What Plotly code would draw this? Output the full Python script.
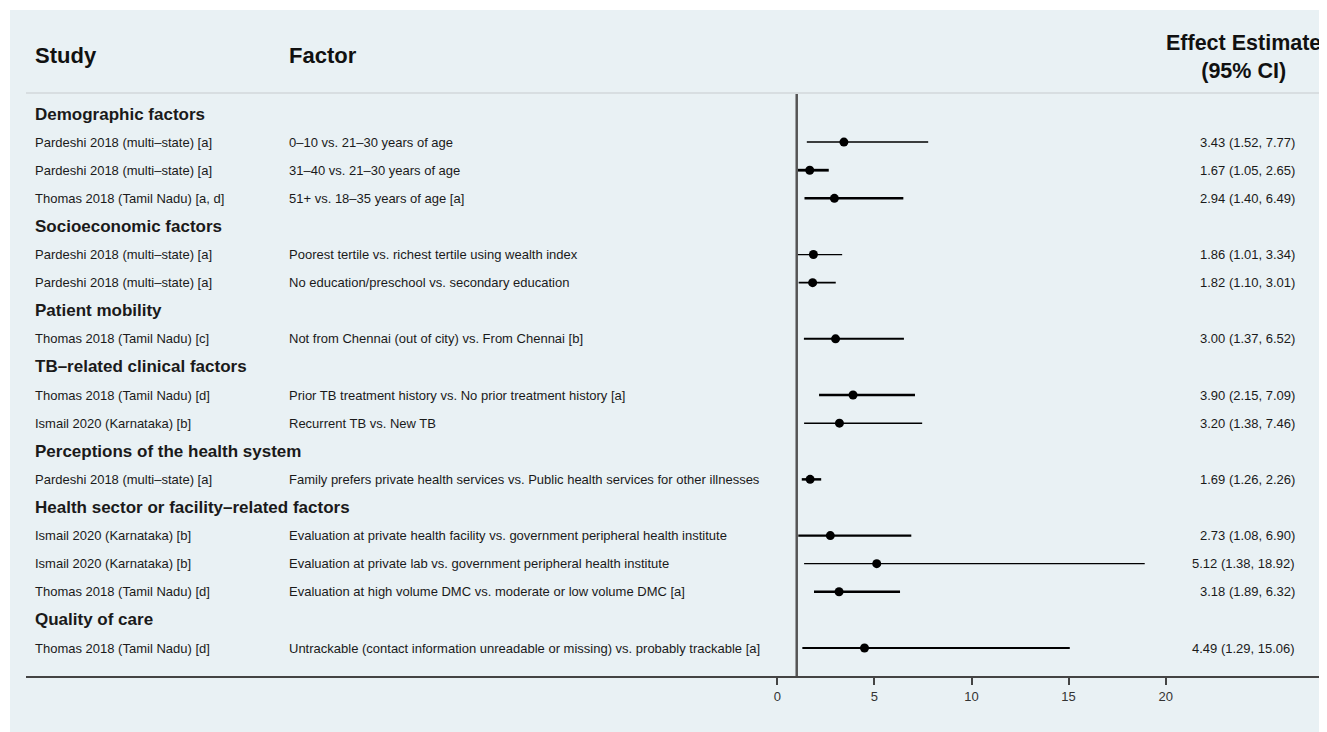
import plotly.graph_objects as go

# ---------------- data ----------------
groups = [
    "Demographic factors",
    "Socioeconomic factors",
    "Patient mobility",
    "TB–related clinical factors",
    "Perceptions of the health system",
    "Health sector or facility–related factors",
    "Quality of care",
]
row_group = [0, 0, 0, 1, 1, 2, 3, 3, 4, 5, 5, 5, 6]
studies = [
    "Pardeshi 2018 (multi–state) [a]",
    "Pardeshi 2018 (multi–state) [a]",
    "Thomas 2018 (Tamil Nadu) [a, d]",
    "Pardeshi 2018 (multi–state) [a]",
    "Pardeshi 2018 (multi–state) [a]",
    "Thomas 2018 (Tamil Nadu) [c]",
    "Thomas 2018 (Tamil Nadu) [d]",
    "Ismail 2020 (Karnataka) [b]",
    "Pardeshi 2018 (multi–state) [a]",
    "Ismail 2020 (Karnataka) [b]",
    "Ismail 2020 (Karnataka) [b]",
    "Thomas 2018 (Tamil Nadu) [d]",
    "Thomas 2018 (Tamil Nadu) [d]",
]
factors = [
    "0–10 vs. 21–30 years of age",
    "31–40 vs. 21–30 years of age",
    "51+ vs. 18–35 years of age [a]",
    "Poorest tertile vs. richest tertile using wealth index",
    "No education/preschool vs. secondary education",
    "Not from Chennai (out of city) vs. From Chennai [b]",
    "Prior TB treatment history vs. No prior treatment history [a]",
    "Recurrent TB vs. New TB",
    "Family prefers private health services vs. Public health services for other illnesses",
    "Evaluation at private health facility vs. government peripheral health institute",
    "Evaluation at private lab vs. government peripheral health institute",
    "Evaluation at high volume DMC vs. moderate or low volume DMC [a]",
    "Untrackable (contact information unreadable or missing) vs. probably trackable [a]",
]
estimate = [3.43, 1.67, 2.94, 1.86, 1.82, 3.00, 3.90, 3.20, 1.69, 2.73, 5.12, 3.18, 4.49]
ci_low = [1.52, 1.05, 1.40, 1.01, 1.10, 1.37, 2.15, 1.38, 1.26, 1.08, 1.38, 1.89, 1.29]
ci_high = [7.77, 2.65, 6.49, 3.34, 3.01, 6.52, 7.09, 7.46, 2.26, 6.90, 18.92, 6.32, 15.06]
x_ticks = [0, 5, 10, 15, 20]
null_value = 1

# ---------------- styles ----------------
ci_line_widths = [1.5, 2.8, 2.5, 1.3, 1.8, 2.0, 2.5, 1.5, 2.5, 2.2, 1.3, 2.5, 2.2]
BG = "#e9f1f4"
FONT = "Liberation Sans, Arial, sans-serif"
W, H = 1327, 732
OFF = 8  # page offset of the figure in the browser
# plot area in screen pixels (as measured on the reference)
SX0, SX1, SY0, SY1 = 26, 1320, 94, 676
L, R, T, B = SX0 - OFF, W - (SX1 - OFF), SY0 - OFF, H - (SY1 - OFF)
PW, PH = SX1 - SX0, SY1 - SY0

def px_x(px):
    return (px - SX0) / PW

def px_y(py):
    return (SY1 - py) / PH

# build row layout: group header rows followed by data rows
row_y = []
header_y = []
k = 0
for g in range(len(groups)):
    header_y.append(k)
    k += 1
    for i, rg in enumerate(row_group):
        if rg == g:
            row_y.append((i, k))
            k += 1
y_of = dict(row_y)
n_rows = k

fig = go.Figure()

# CI lines
for i in range(len(estimate)):
    fig.add_trace(go.Scatter(
        x=[ci_low[i], ci_high[i]], y=[y_of[i], y_of[i]],
        mode="lines", line=dict(color="black", width=ci_line_widths[i]),
        hoverinfo="skip", showlegend=False,
    ))
# point estimates
fig.add_trace(go.Scatter(
    x=estimate, y=[y_of[i] for i in range(len(estimate))],
    mode="markers", marker=dict(color="black", size=9),
    showlegend=False,
))

annotations = []
# column headers
annotations.append(dict(x=px_x(33), y=px_y(55), xref="paper", yref="paper", text="<b>Study</b>",
                        showarrow=False, xanchor="left", yanchor="middle",
                        font=dict(size=22, color="#111", family=FONT)))
annotations.append(dict(x=px_x(287), y=px_y(55), xref="paper", yref="paper", text="<b>Factor</b>",
                        showarrow=False, xanchor="left", yanchor="middle",
                        font=dict(size=22, color="#111", family=FONT)))
annotations.append(dict(x=px_x(1243), y=px_y(57), xref="paper", yref="paper",
                        text="<b>Effect Estimate</b><br><b>(95% CI)</b>",
                        showarrow=False, xanchor="center", yanchor="middle", align="center",
                        font=dict(size=21.5, color="#111", family=FONT)))
# group headers
for g, yy in zip(groups, header_y):
    annotations.append(dict(x=px_x(33), y=yy, xref="paper", yref="y", text="<b>" + g + "</b>",
                            showarrow=False, xanchor="left", yanchor="middle",
                            font=dict(size=17, color="#1a1a1a", family=FONT)))
# row texts
for i in range(len(estimate)):
    yy = y_of[i]
    annotations.append(dict(x=px_x(33), y=yy, xref="paper", yref="y", text=studies[i],
                            showarrow=False, xanchor="left", yanchor="middle",
                            font=dict(size=13, color="#1a1a1a", family=FONT)))
    annotations.append(dict(x=px_x(287), y=yy, xref="paper", yref="y", text=factors[i],
                            showarrow=False, xanchor="left", yanchor="middle",
                            font=dict(size=13, color="#1a1a1a", family=FONT)))
    label = "{:.2f} ({:.2f}, {:.2f})".format(estimate[i], ci_low[i], ci_high[i])
    annotations.append(dict(x=px_x(1297), y=yy, xref="paper", yref="y", text=label,
                            showarrow=False, xanchor="right", yanchor="middle",
                            font=dict(size=13, color="#1a1a1a", family=FONT)))

shapes = [
    # background panel
    dict(type="rect", xref="paper", yref="paper", x0=px_x(10), x1=px_x(W + 20),
         y0=px_y(H + 20), y1=px_y(10), fillcolor=BG, line=dict(width=0), layer="below"),
    # header separator
    dict(type="line", xref="paper", yref="paper", x0=0, x1=1, y0=px_y(93), y1=px_y(93),
         line=dict(color="#d8dee1", width=2)),
    # null line
    dict(type="line", xref="x", yref="paper", x0=null_value, x1=null_value, y0=0, y1=1,
         line=dict(color="#555555", width=2.5)),
]

# x range so that 0 -> 777.3 px, 20 -> 1165.7 px (screen)
ppu = (1165.7 - 777.3) / 20
x_min = -(777.3 - SX0) / ppu
x_max = (SX1 - 777.3) / ppu
# y range: first row center at 114 px, last at 648 px (screen)
row_px = (648 - 114) / (n_rows - 1)
y_top = -(114 - SY0) / row_px
y_bot = (n_rows - 1) + (SY1 - 648) / row_px

fig.update_layout(
    width=W, height=H,
    margin=dict(l=L, r=R, t=T, b=B, pad=0),
    paper_bgcolor="white", plot_bgcolor=BG,
    font=dict(family=FONT),
    annotations=annotations, shapes=shapes,
    xaxis=dict(range=[x_min, x_max], tickvals=x_ticks, ticktext=[str(t) for t in x_ticks],
               showgrid=False, zeroline=False, showline=True, linecolor="#444444", linewidth=2,
               ticks="outside", ticklen=7, tickwidth=2, tickcolor="#444444",
               tickfont=dict(size=13, color="#333333", family=FONT)),
    yaxis=dict(range=[y_bot, y_top], showgrid=False, zeroline=False, showticklabels=False,
               showline=False, ticks=""),
)

fig.write_html("out.html")
